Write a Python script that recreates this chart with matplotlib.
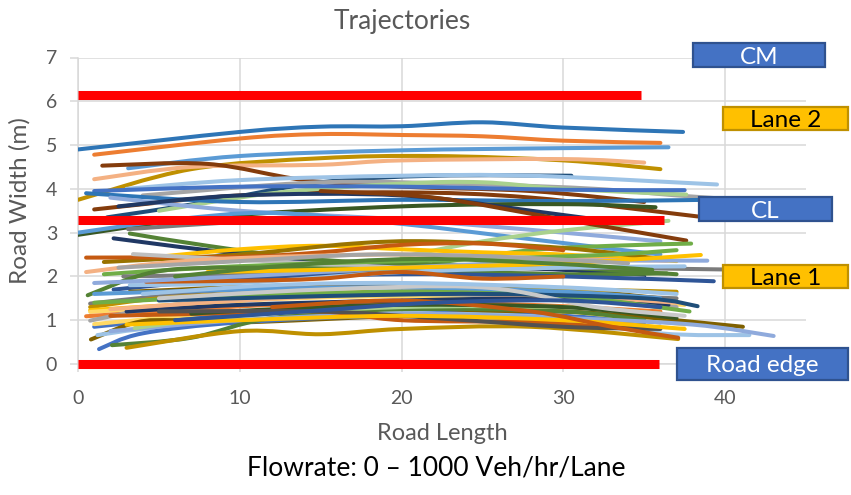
import matplotlib
matplotlib.use("Agg")
import matplotlib.pyplot as plt
from matplotlib.path import Path
from matplotlib.patches import PathPatch, Rectangle
import numpy as np

plt.rcParams['font.family'] = ['Lato', 'DejaVu Sans']

# ---------------- data ----------------
title = "Trajectories"
x_label = "Road Length"
y_label = "Road Width (m)"
caption = "Flowrate: 0 \u2013 1000 Veh/hr/Lane"
x_ticks = [0, 10, 20, 30, 40]
y_ticks = [0, 1, 2, 3, 4, 5, 6, 7]

# road markings (red lines): y level and end x
marking_y = [6.15, 3.3, 0.0]
marking_end = [34.8, 36.2, 35.9]

box_labels = ["CM", "Lane 2", "CL", "Lane 1", "Road edge"]

# vehicle trajectories: x (road length) and y (road width) samples
traj_x = [
    [0, 10, 15, 20, 25, 30, 37.4],
    [1, 10, 15, 20, 25, 30, 36],
    [3.1, 10, 20, 30, 36.5],
    [0, 7, 15, 22, 30, 36],
    [1, 7, 15, 20, 30, 35],
    [1.5, 8, 14, 20, 28, 35],
    [1, 10, 20, 28, 38.3],
    [1.8, 8, 15, 22, 30.5],
    [3, 10, 20, 28, 39.5],
    [4, 15, 25, 32, 37, 41],
    [5, 12, 20, 25, 30, 37.6],
    [1, 10, 20, 30, 37.5],
    [0.5, 10, 20, 30, 39],
    [0, 8, 20, 30, 35.7],
    [2, 10, 20, 30, 36],
    [2.5, 10, 20, 28, 34],
    [0, 6, 12, 20, 28, 36],
    [3.1, 10, 15, 20, 27],
    [20, 25, 30, 36.5],
    [15, 22, 30, 37.6],
    [22, 28, 33, 37.9],
    # middle group
    [2.2, 8, 15, 22, 30, 35],
    [3.2, 8, 14.3, 20, 30, 37],
    [5, 10, 15, 20, 25, 30, 37],
    [1.6, 10, 17, 22, 30, 36],
    [0.5, 10, 15, 20, 25, 30],
    [3.4, 10, 20, 30, 35],
    [0.5, 5, 10, 20, 30, 36.4],
    [1.6, 8, 15, 25, 33, 37],
    [2.8, 10, 20, 30, 39.8],
    [0.6, 4.7, 10, 20, 30, 36.4],
    [2.2, 10, 20, 30, 39.3],
    [3.2, 10, 20, 30, 37.5],
    [4.2, 10, 15, 20, 25, 30],
    [3.2, 10, 20, 30, 36],
    [1, 10, 20, 30, 38.9],
    [8, 15, 20, 30, 38.5],
    # lower group
    [0.75, 5, 10, 20, 30, 37],
    [0.75, 5, 10, 20, 30, 37],
    [0.75, 8, 15, 25, 35],
    [0.75, 5, 10, 20, 30, 37.5],
    [0.5, 5, 12, 20, 28, 36],
    [0.75, 5, 10, 20, 30, 37],
    [1, 5, 10, 20, 30, 36],
    [1, 5, 10, 20, 30, 37.5],
    [0.8, 3.6, 6, 10, 20, 30, 41.1],
    [1.2, 4, 10, 20, 30, 36, 41.5],
    [1.3, 4, 10, 20, 30, 35],
    [2.1, 7, 12, 20, 30, 35],
    [3, 10, 15, 20, 28, 37.1],
    [2, 10, 20, 30, 38, 43],
    [3.5, 10, 20, 30, 36],
    [2, 8, 15, 20, 28, 35],
    [7, 12, 20, 30, 37],
    [3, 10, 20, 30, 36.5],
    [2, 10, 20, 30, 37],
    [1, 10, 20, 30, 37.8],
    [1, 10, 20, 30, 36],
    [5, 15, 25, 35, 38.3],
    [5, 15, 22, 30, 36],
    [5, 15, 25, 32, 37.5],
    [3, 10, 20, 30, 37.5],
    [12, 20, 28, 33, 37.1],
    [4, 12, 20, 30, 37],
    [6, 14, 22, 30, 36],
    [2.5, 10, 18, 26, 34],
    [6, 13, 21, 29, 35.5],
]
traj_y = [
    [4.9, 5.3, 5.42, 5.43, 5.52, 5.4, 5.3],
    [4.78, 5.15, 5.25, 5.23, 5.2, 5.1, 5.05],
    [4.47, 4.75, 4.88, 4.93, 4.95],
    [3.75, 4.45, 4.7, 4.75, 4.65, 4.45],
    [4.22, 4.5, 4.55, 4.65, 4.68, 4.6],
    [4.53, 4.57, 4.2, 4.05, 3.95, 3.7],
    [3.53, 3.85, 3.92, 3.8, 3.37],
    [3.35, 3.7, 4.15, 4.3, 4.3],
    [4.0, 4.2, 4.3, 4.3, 4.1],
    [3.85, 4.15, 4.1, 4.0, 3.85, 3.75],
    [3.5, 3.9, 4.12, 4.15, 4.0, 3.87],
    [3.95, 4.05, 4.05, 3.98, 3.97],
    [3.9, 3.7, 3.75, 3.72, 3.75],
    [2.95, 3.35, 3.6, 3.65, 3.58],
    [3.8, 3.5, 3.3, 3.0, 2.8],
    [3.6, 3.85, 3.85, 3.5, 3.2],
    [3.0, 3.3, 3.45, 3.2, 2.85, 2.5],
    [3.08, 3.25, 3.32, 3.33, 3.3],
    [2.45, 2.8, 3.05, 3.27],
    [3.95, 3.8, 3.3, 2.82],
    [2.3, 2.6, 2.7, 2.75],
    # middle group
    [2.87, 2.6, 2.35, 2.25, 2.15, 2.0],
    [2.98, 2.7, 2.4, 2.3, 2.2, 2.05],
    [2.45, 2.62, 2.7, 2.62, 2.55, 2.5, 2.35],
    [2.33, 2.5, 2.75, 2.8, 2.65, 2.4],
    [2.43, 2.45, 2.55, 2.72, 2.75, 2.6],
    [2.51, 2.38, 2.2, 2.05, 1.95],
    [2.1, 2.3, 2.42, 2.5, 2.4, 2.36],
    [2.05, 2.2, 2.3, 2.4, 2.5, 2.6],
    [2.0, 2.05, 2.15, 2.2, 2.16],
    [1.57, 2.1, 2.2, 2.15, 2.05, 2.07],
    [1.7, 1.95, 2.05, 2.0, 1.89],
    [1.8, 1.85, 2.1, 2.2, 2.23],
    [1.88, 1.9, 1.95, 2.1, 1.95, 2.0],
    [1.65, 1.75, 1.8, 1.7, 1.5],
    [1.85, 2.0, 2.2, 2.35, 2.36],
    [2.1, 2.15, 2.2, 2.3, 2.49],
    # lower group
    [1.38, 1.55, 1.7, 1.75, 1.6, 1.5],
    [1.3, 1.5, 1.6, 1.65, 1.7, 1.65],
    [1.23, 1.4, 1.55, 1.6, 1.5],
    [1.19, 1.3, 1.45, 1.55, 1.45, 1.35],
    [1.09, 1.2, 1.35, 1.4, 1.35, 1.2],
    [0.99, 1.3, 1.5, 1.6, 1.5, 1.3],
    [0.85, 1.0, 1.15, 1.25, 1.1, 0.95],
    [0.91, 1.05, 1.2, 1.3, 1.2, 0.9],
    [0.56, 0.95, 1.0, 0.95, 1.1, 1.2, 0.85],
    [0.66, 0.8, 1.0, 1.15, 1.05, 0.7, 0.66],
    [0.34, 0.7, 0.95, 1.1, 1.0, 0.9],
    [0.43, 0.6, 1.05, 1.25, 1.2, 1.0],
    [0.37, 0.75, 0.68, 0.8, 0.85, 0.57],
    [0.75, 1.0, 1.15, 1.05, 0.9, 0.64],
    [0.82, 1.1, 1.3, 1.3, 1.15],
    [1.1, 1.15, 1.2, 1.0, 0.95, 0.8],
    [1.15, 1.25, 1.35, 1.3, 1.05],
    [1.2, 1.35, 1.45, 1.5, 1.35],
    [1.25, 1.45, 1.6, 1.55, 1.4],
    [1.4, 1.55, 1.65, 1.55, 1.2],
    [1.6, 1.7, 1.75, 1.65, 1.5],
    [1.45, 1.55, 1.6, 1.5, 1.32],
    [1.2, 1.2, 1.05, 0.85, 0.8],
    [1.5, 1.7, 1.75, 1.3, 1.1],
    [0.9, 1.0, 1.1, 1.0, 0.8],
    [1.3, 1.45, 1.2, 0.85, 0.6],
    [1.6, 1.8, 1.85, 1.75, 1.6],
    [1.0, 1.2, 1.4, 1.45, 1.3],
    [2.2, 2.35, 2.5, 2.45, 2.3],
    [2.0, 2.25, 2.4, 2.3, 2.15],
]

# ---------------- style ----------------
palette = ['#2E75B6', '#ED7D31', '#5B9BD5', '#BF9000', '#F4B183', '#843C0C',
           '#843C0C', '#1F4E79', '#9DC3E6', '#A5A5A5', '#A9D18E', '#4472C4',
           '#2E75B6', '#385723', '#8FAADC', '#203864', '#5B9BD5', '#7B7B7B',
           '#A9D18E', '#843C0C', '#70AD47',
           '#203864', '#548235', '#FFC000', '#997300', '#C55A11', '#BFBFBF',
           '#F4B183', '#70AD47', '#7B7B7B', '#548235', '#2F5597', '#9DC3E6',
           '#C55A11', '#7F6000', '#8FAADC', '#FFC000',
           '#7B7B7B', '#BF9000', '#FFC000', '#FFD966', '#ED7D31', '#A5A5A5',
           '#4472C4', '#FFD966', '#7F6000', '#9DC3E6', '#4472C4', '#548235',
           '#BF9000', '#8FAADC', '#A9D18E', '#C55A11', '#385723', '#203864',
           '#F4B183', '#70AD47', '#5B9BD5', '#1F4E79', '#525252', '#C9C9C9',
           '#FFC000', '#C55A11', '#9DC3E6', '#2F5597', '#A5A5A5', '#548235']

GRID = '#D9D9D9'
TXT = '#595959'

fig = plt.figure(figsize=(8.51, 4.95), dpi=100)
ax = fig.add_axes([78/851, 1-364/495, 728/851, 306.5/495])
ax.set_xlim(0, 45)
ax.set_ylim(0, 7)


def smooth_path(xs, ys):
    pts = np.column_stack([xs, ys]).astype(float)
    n = len(pts)
    ext = np.vstack([pts[0], pts, pts[-1]])
    verts = [pts[0]]
    codes = [Path.MOVETO]
    for i in range(n - 1):
        p0, p1, p2, p3 = ext[i], ext[i+1], ext[i+2], ext[i+3]
        c1 = p1 + (p2 - p0) / 6.0
        c2 = p2 - (p3 - p1) / 6.0
        verts += [c1, c2, p2]
        codes += [Path.CURVE4] * 3
    return Path(verts, codes)


for i, (xs, ys) in enumerate(zip(traj_x, traj_y)):
    col = palette[i % len(palette)]
    patch = PathPatch(smooth_path(xs, ys), facecolor='none', edgecolor=col,
                      lw=2.9, capstyle='round', joinstyle='round', zorder=3)
    ax.add_patch(patch)

for yv, xe in zip(marking_y, marking_end):
    ax.plot([0, xe], [yv, yv], color='#FF0000', lw=6.5, solid_capstyle='butt',
            zorder=5, clip_on=False)

# grid, spines, ticks
ax.set_xticks(x_ticks)
ax.set_yticks(y_ticks)
ax.grid(True, color=GRID, lw=1.1, zorder=0)
ax.set_axisbelow(True)
for s in ['top', 'right']:
    ax.spines[s].set_visible(False)
for s in ['left', 'bottom']:
    ax.spines[s].set_color(GRID)
    ax.spines[s].set_linewidth(1.1)
ax.tick_params(axis='both', color=GRID, length=6, width=1.1, labelsize=14,
               labelcolor=TXT, direction='out')
ax.tick_params(axis='y', pad=9)
ax.tick_params(axis='x', pad=13)

# label boxes (data-coordinate rectangles)
box_geom = [(38.0, 6.79, 8.2, 0.53, '#4472C4', '#2F528F', 'white'),
            (39.9, 5.34, 7.7, 0.52, '#FFC000', '#BF9000', 'black'),
            (38.4, 3.26, 8.2, 0.55, '#4472C4', '#2F528F', 'white'),
            (39.9, 1.73, 7.7, 0.53, '#FFC000', '#BF9000', 'black'),
            (37.0, -0.36, 10.6, 0.72, '#4472C4', '#2F528F', 'white')]
for lab, (bx, by, bw, bh, fc, ec, tc) in zip(box_labels, box_geom):
    r = Rectangle((bx, by), bw, bh, facecolor=fc, edgecolor=ec, lw=1.6,
                  zorder=8, clip_on=False)
    ax.add_patch(r)
    ax.text(bx + bw/2, by + bh/2, lab, ha='center', va='center_baseline',
            fontsize=17.5, color=tc, zorder=9, clip_on=False)

fig.text(402/851, 1-22/495, title, ha='center', va='center', fontsize=19, color=TXT)
fig.text(442/851, 1-433/495, x_label, ha='center', va='center', fontsize=17, color=TXT)
fig.text(20/851, 1-201/495, y_label, ha='center', va='center', rotation=90,
         fontsize=17.5, color=TXT)
fig.text(436/851, 1-468/495, caption, ha='center', va='center', fontsize=19,
         color='black')

fig.savefig('out.png', dpi=100)
